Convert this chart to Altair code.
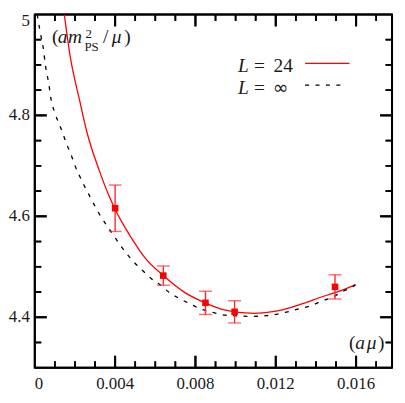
import altair as alt
import pandas as pd

# ---------------- data ----------------
pt_x = [0.0040, 0.0064, 0.0085, 0.00995, 0.01495]
pt_y = [4.616, 4.4825, 4.4286, 4.4107, 4.4602]
pt_err = [0.046, 0.019, 0.023, 0.022, 0.024]

red_x = [0.00147, 0.00175, 0.00223, 0.00260, 0.00320, 0.00369, 0.00401, 0.00449,
         0.00514, 0.00546, 0.00640, 0.00740, 0.00848, 0.00950, 0.01047, 0.01096,
         0.01209, 0.01322, 0.01435, 0.01532, 0.01597]
red_y = [5.000, 4.920, 4.830, 4.766, 4.692, 4.641, 4.613, 4.578,
         4.537, 4.519, 4.4825, 4.4507, 4.4286, 4.4139, 4.4085, 4.4076,
         4.4125, 4.4253, 4.4411, 4.4539, 4.4648]

dash_x = [0.00012, 0.000257, 0.000422, 0.000533, 0.000693, 0.00081, 0.001018, 0.001343,
          0.00159, 0.00179, 0.00199, 0.00220, 0.00247, 0.00272, 0.00301, 0.00328,
          0.00360, 0.00393, 0.00425, 0.00490, 0.00538, 0.00578, 0.00627, 0.00668,
          0.00716, 0.00772, 0.00829, 0.00886, 0.00934, 0.00990, 0.01063, 0.01096,
          0.01152, 0.01209, 0.01265, 0.01322, 0.01378, 0.01427, 0.01484, 0.01532,
          0.01589, 0.01597]
dash_y = [5.000, 4.9676, 4.9333, 4.8983, 4.8636, 4.8316, 4.803, 4.770,
          4.743, 4.724, 4.7015, 4.6825, 4.660, 4.641, 4.619, 4.600,
          4.581, 4.562, 4.543, 4.511, 4.492, 4.4773, 4.4634, 4.4495,
          4.4381, 4.4267, 4.4158, 4.4095, 4.4050, 4.4030, 4.4019, 4.4019,
          4.4030, 4.4063, 4.4114, 4.4171, 4.4234, 4.4316, 4.4400, 4.4507,
          4.4621, 4.4645]

x_labels = [0, 0.004, 0.008, 0.012, 0.016]
x_major = [0.004, 0.008, 0.012, 0.016]
x_minor = [0.001, 0.002, 0.003, 0.005, 0.006, 0.007, 0.009, 0.010, 0.011,
           0.013, 0.014, 0.015, 0.017]
y_labels = [4.4, 4.6, 4.8, 5.0]
y_major = [4.4, 4.6, 4.8]
y_minor = [4.35, 4.45, 4.5, 4.55, 4.65, 4.7, 4.75, 4.85, 4.9, 4.95]

X_DOMAIN = [0, 0.01779]
Y_DOMAIN = [4.3, 5.0]

legend_labels = ["24", "\u221e"]

# ---------------- styling / layout ----------------
W, H = 360, 356
FX, FY = W / 367.0, H / 368.0          # annotation layout designed at 367x368
MAJ, MIN = 12, 6.5
SERIF = "Liberation Serif"
TXT = "#1a1a1a"
RED = "#ff0000"
ERR = "#ff2a2a"
LBL = 17

xs = alt.Scale(domain=X_DOMAIN, nice=False, zero=False)
ys = alt.Scale(domain=Y_DOMAIN, nice=False, zero=False)


def X(f):
    return alt.X(f, type="quantitative", scale=xs, axis=None)


def Y(f):
    return alt.Y(f, type="quantitative", scale=ys, axis=None)


curve_red = pd.DataFrame({"x": red_x, "y": red_y})
curve_dash = pd.DataFrame({"x": dash_x, "y": dash_y})
pts = pd.DataFrame({"x": pt_x, "y": pt_y, "e": pt_err})
pts["lo"] = pts["y"] - pts["e"]
pts["hi"] = pts["y"] + pts["e"]
one = pd.DataFrame({"k": [0]})

sx = (X_DOMAIN[1] - X_DOMAIN[0]) / W   # data units per pixel
sy = (Y_DOMAIN[1] - Y_DOMAIN[0]) / H

# ---- inward ticks on all four sides, as 2-point line segments (through the scales) ----
seg_rows = []
sid = 0
for vals, ln, wd in [(x_major, MAJ, 2.0), (x_minor, MIN, 1.7)]:
    for v in vals:
        for edge, sgn in [(Y_DOMAIN[0], 1), (Y_DOMAIN[1], -1)]:
            seg_rows.append({"sg": sid, "o": 0, "sx": v, "sy": edge, "sw": wd})
            seg_rows.append({"sg": sid, "o": 1, "sx": v, "sy": edge + sgn * ln * sy, "sw": wd})
            sid += 1
for vals, ln, wd in [(y_major, MAJ, 2.0), (y_minor, MIN, 1.7)]:
    for v in vals:
        for edge, sgn in [(X_DOMAIN[0], 1), (X_DOMAIN[1], -1)]:
            seg_rows.append({"sg": sid, "o": 0, "sx": edge, "sy": v, "sw": wd})
            seg_rows.append({"sg": sid, "o": 1, "sx": edge + sgn * ln * sx, "sy": v, "sw": wd})
            sid += 1
seg_df = pd.DataFrame(seg_rows)

tick_lines = alt.Chart(seg_df).mark_line(color="black", clip=False).encode(
    x=X("sx"), y=Y("sy"), detail="sg:N", order="o:Q",
    strokeWidth=alt.StrokeWidth("sw:Q", scale=None, legend=None),
)

# the same ticks as thin rectangles
rect_rows = []
for vals, ln, wd in [(x_major, MAJ, 2.0), (x_minor, MIN, 1.7)]:
    for v in vals:
        rect_rows.append({"rx": v - wd / 2 * sx, "rx2": v + wd / 2 * sx,
                          "ry": Y_DOMAIN[0], "ry2": Y_DOMAIN[0] + ln * sy})
        rect_rows.append({"rx": v - wd / 2 * sx, "rx2": v + wd / 2 * sx,
                          "ry": Y_DOMAIN[1], "ry2": Y_DOMAIN[1] - ln * sy})
for vals, ln, wd in [(y_major, MAJ, 2.0), (y_minor, MIN, 1.7)]:
    for v in vals:
        rect_rows.append({"rx": X_DOMAIN[0], "rx2": X_DOMAIN[0] + ln * sx,
                          "ry": v - wd / 2 * sy, "ry2": v + wd / 2 * sy})
        rect_rows.append({"rx": X_DOMAIN[1], "rx2": X_DOMAIN[1] - ln * sx,
                          "ry": v - wd / 2 * sy, "ry2": v + wd / 2 * sy})
rect_df = pd.DataFrame(rect_rows)

tick_rects = alt.Chart(rect_df).mark_rect(color="black", opacity=1).encode(
    x=X("rx"), x2="rx2:Q", y=Y("ry"), y2="ry2:Q",
)

# frame (plot-area border)
frame = [
    alt.Chart(one).mark_rule(color="black", strokeWidth=2).encode(
        x=alt.value(0), x2=alt.value(W), y=alt.value(0)),
    alt.Chart(one).mark_rule(color="black", strokeWidth=2).encode(
        x=alt.value(0), x2=alt.value(W), y=alt.value(H)),
    alt.Chart(one).mark_rule(color="black", strokeWidth=2).encode(
        y=alt.value(0), y2=alt.value(H), x=alt.value(0)),
    alt.Chart(one).mark_rule(color="black", strokeWidth=2).encode(
        y=alt.value(0), y2=alt.value(H), x=alt.value(W)),
]

red_line = alt.Chart(curve_red).mark_line(color=RED, strokeWidth=1.3, interpolate="monotone",
                                          clip=True).encode(x=X("x"), y=Y("y"))
dash_line = alt.Chart(curve_dash).mark_line(color="black", strokeWidth=1.3, strokeDash=[4, 6.5],
                                            interpolate="monotone", clip=True).encode(x=X("x"), y=Y("y"))
err_rules = alt.Chart(pts).mark_rule(color=ERR, strokeWidth=1.4).encode(x=X("x"), y=Y("lo"), y2="hi:Q")
cap_lo = alt.Chart(pts).mark_tick(color=ERR, orient="horizontal", size=13, thickness=1.4).encode(
    x=X("x"), y=Y("lo"))
cap_hi = alt.Chart(pts).mark_tick(color=ERR, orient="horizontal", size=13, thickness=1.4).encode(
    x=X("x"), y=Y("hi"))
points = alt.Chart(pts).mark_square(color=RED, size=44, opacity=1).encode(x=X("x"), y=Y("y"))

# tick labels (values from the label lists, placed through the scales)
xl_first = alt.Chart(pd.DataFrame({"xl": x_labels[:1]})).mark_text(
    align="left", baseline="alphabetic", font=SERIF, fontSize=LBL, color=TXT
).encode(x=X("xl"), y=alt.value(H + 21), text=alt.Text("xl:Q", format=".3~f"))
xl_rest = alt.Chart(pd.DataFrame({"xl": x_labels[1:]})).mark_text(
    align="center", baseline="alphabetic", font=SERIF, fontSize=LBL, color=TXT
).encode(x=X("xl"), y=alt.value(H + 21), text=alt.Text("xl:Q", format=".3~f"))
yl_rest = alt.Chart(pd.DataFrame({"yl": y_labels[:-1]})).mark_text(
    align="right", baseline="middle", font=SERIF, fontSize=LBL, color=TXT
).encode(y=Y("yl"), x=alt.value(-5), text=alt.Text("yl:Q", format=".1~f"))
yl_last = alt.Chart(pd.DataFrame({"yl": y_labels[-1:]})).mark_text(
    align="right", baseline="top", font=SERIF, fontSize=LBL, color=TXT, dy=-1
).encode(y=Y("yl"), x=alt.value(-5), text=alt.Text("yl:Q", format=".1~f"))


def txt(s, x, y, size, italic=False, font=SERIF):
    return alt.Chart(one).mark_text(
        text=s, align="left", baseline="alphabetic", font=font, fontSize=size,
        fontStyle="italic" if italic else "normal", color=TXT,
    ).encode(x=alt.value(x * FX), y=alt.value(y * FY))


annotations = [
    # y label (a m^2_PS / mu)
    txt("(", 17.7, 30, 19.5),
    txt("a", 23.5, 30, 19.5, italic=True),
    txt("m", 34, 30, 19.5, italic=True),
    txt("2", 52, 24.5, 13),
    txt("PS", 51, 38.5, 13),
    txt("/", 70, 30, 19.5),
    txt("\u03bc", 79, 30, 19.5, italic=True),
    txt(")", 92, 30, 19.5),
    # x label (a mu)
    txt("(", 322.7, 348, 19.5),
    txt("a", 329.3, 348, 19.5, italic=True),
    txt("\u03bc", 341, 348, 19.5, italic=True),
    txt(")", 352.7, 348, 19.5),
    # legend
    txt("L", 208.7, 59.5, 19.5, italic=True),
    txt("=", 225.3, 59.5, 19.5),
    txt(legend_labels[0], 245.3, 59.5, 19.5),
    txt("L", 208.7, 82.5, 19.5, italic=True),
    txt("=", 225.3, 82.5, 19.5),
    txt(legend_labels[1], 244.5, 82.5, 19, font="DejaVu Sans"),
]

leg_red = alt.Chart(one).mark_rule(color=RED, strokeWidth=1.4).encode(
    x=alt.value(277.7 * FX), x2=alt.value(323.3 * FX), y=alt.value(51 * FY))
leg_dash = alt.Chart(one).mark_rule(color="black", strokeWidth=1.3, strokeDash=[4, 6.5]).encode(
    x=alt.value(277.7 * FX), x2=alt.value(318 * FX), y=alt.value(73.7 * FY))

chart = alt.layer(
    *frame,
    red_line, dash_line, err_rules, cap_lo, cap_hi, points,
    xl_first, xl_rest, yl_rest, yl_last,
    leg_red, leg_dash, *annotations,
    tick_rects, tick_lines,
).properties(
    width=W, height=H,
    padding={"left": 0, "top": 1, "right": 1, "bottom": 0},
).configure_view(stroke="black", strokeWidth=2)

chart.save("out.html", embed_options={"renderer": "svg", "actions": False})
